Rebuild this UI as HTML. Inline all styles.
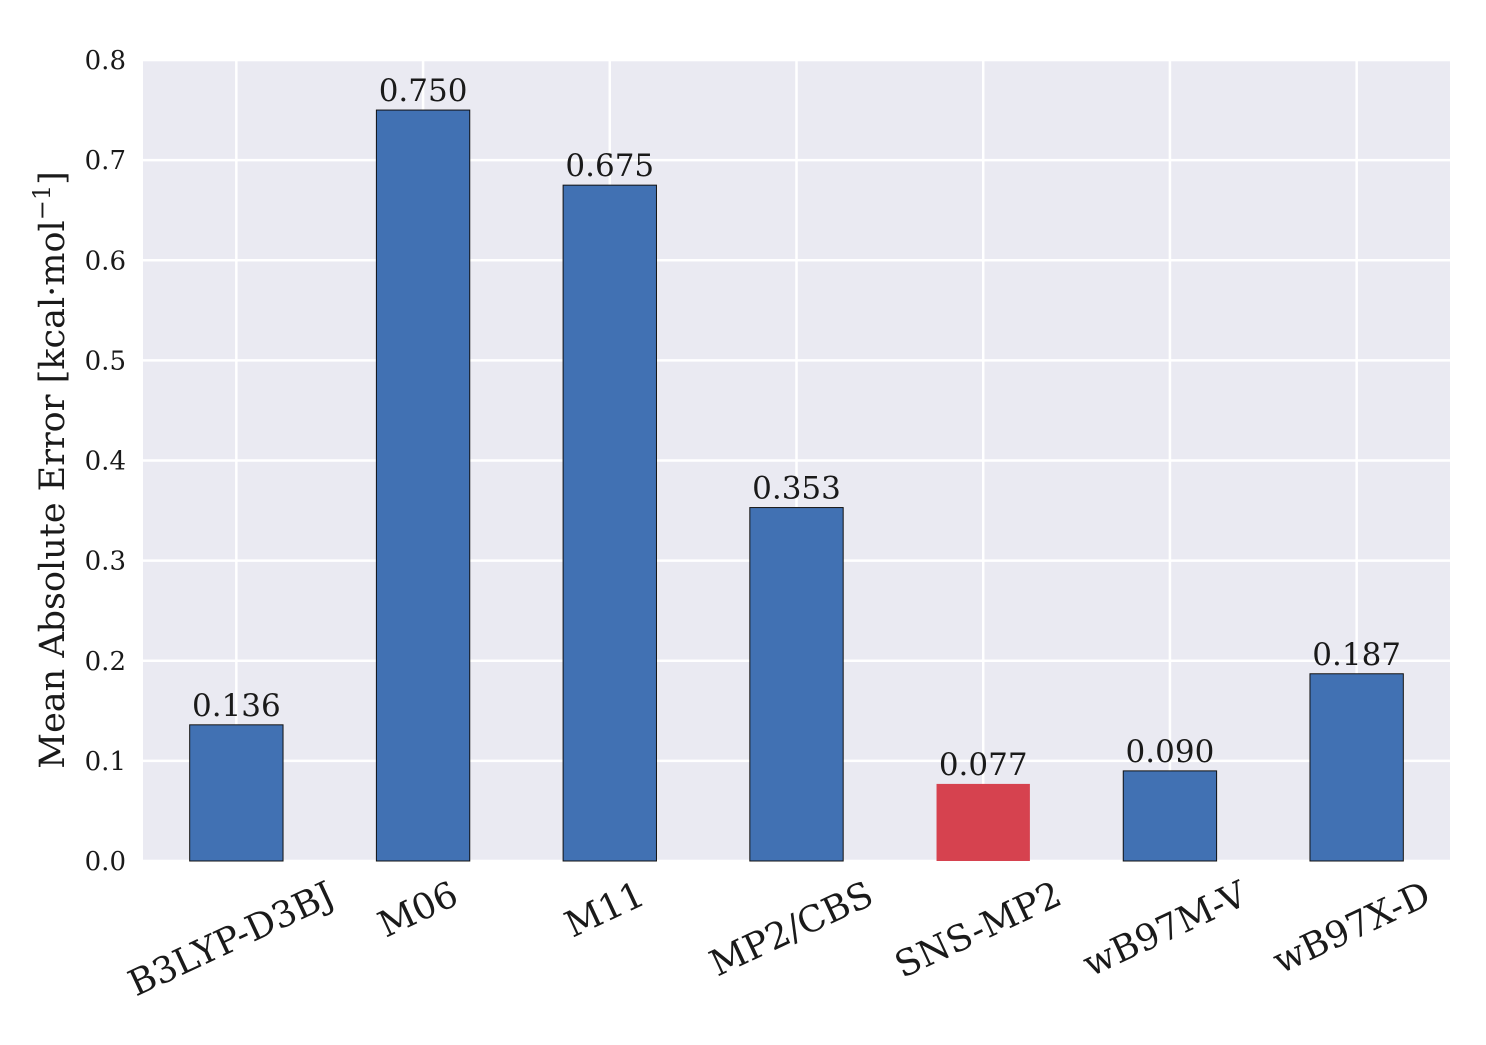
<!DOCTYPE html>
<html><head><meta charset="utf-8"><style>
html,body{margin:0;padding:0;background:#fff;}
text{font-family:"DejaVu Serif","Liberation Serif",serif;fill:#1a1a1a;}
</style></head><body>
<svg id="chart" width="1486" height="1040" xmlns="http://www.w3.org/2000/svg">
<rect x="143" y="60" width="1307" height="801" fill="#eaeaf2"/>
<g id="grid"></g><g id="bars"></g><g id="labels"></g>
<text transform="translate(64,470) rotate(-90)" text-anchor="middle" font-size="35">Mean Absolute Error [kcal·mol<tspan font-size="24" dy="-14">−1</tspan><tspan dy="14">]</tspan></text>
</svg>
<script>
const categories=["B3LYP-D3BJ","M06","M11","MP2/CBS","SNS-MP2","wB97M-V","wB97X-D"];
const values=[0.136,0.750,0.675,0.353,0.077,0.090,0.187];
const valueLabels=["0.136","0.750","0.675","0.353","0.077","0.090","0.187"];
const highlight=["SNS-MP2"];
const yTicks=[0,0.1,0.2,0.3,0.4,0.5,0.6,0.7,0.8];
const yTickLabels=["0.0","0.1","0.2","0.3","0.4","0.5","0.6","0.7","0.8"];
const NS="http://www.w3.org/2000/svg";
const L=143,R=1450,T=60,B=861;
const y=v=>B-(v/0.8)*(B-T);
const step=(R-L)/categories.length;
const x=i=>L+step*(i+0.5);
const bw=step*0.5;
function mk(tag,attrs,parent){const e=document.createElementNS(NS,tag);for(const k in attrs)e.setAttribute(k,attrs[k]);parent.appendChild(e);return e;}
const grid=document.getElementById('grid'),bars=document.getElementById('bars'),labels=document.getElementById('labels');
yTicks.forEach((t,i)=>{
  const l=mk('line',{x1:L,x2:R,y1:y(t),y2:y(t),stroke:'#fff','stroke-width':2.5},grid);
  
  
  const tx=mk('text',{x:126,y:y(t)+9,'text-anchor':'end','font-size':26},labels);
  tx.textContent=yTickLabels[i];
  
  
});
categories.forEach((c,i)=>{
  const l=mk('line',{x1:x(i),x2:x(i),y1:T,y2:B,stroke:'#fff','stroke-width':2.5},grid);
  
  
  const r=mk('rect',{x:x(i)-bw/2,y:y(values[i]),width:bw,height:B-y(values[i]),fill:highlight.includes(c)?'#d6424f':'#4171b3',stroke:highlight.includes(c)?'none':'#111','stroke-width':1},bars);
  
  
  const v=mk('text',{x:x(i),y:y(values[i])-9,'text-anchor':'middle','font-size':31},labels);
  v.textContent=valueLabels[i];
  
  
  const t=mk('text',{'text-anchor':'middle','font-size':36},labels);
  t.textContent=c;
  
  
  const w=t.getComputedTextLength(),h=31,a=25*Math.PI/180;
  const bh=w*Math.sin(a)+h*Math.cos(a);
  const cy=877+bh/2;
  t.setAttribute('transform','translate('+x(i)+','+(cy+12)+') rotate(-25)');
});
</script>
</body></html>
